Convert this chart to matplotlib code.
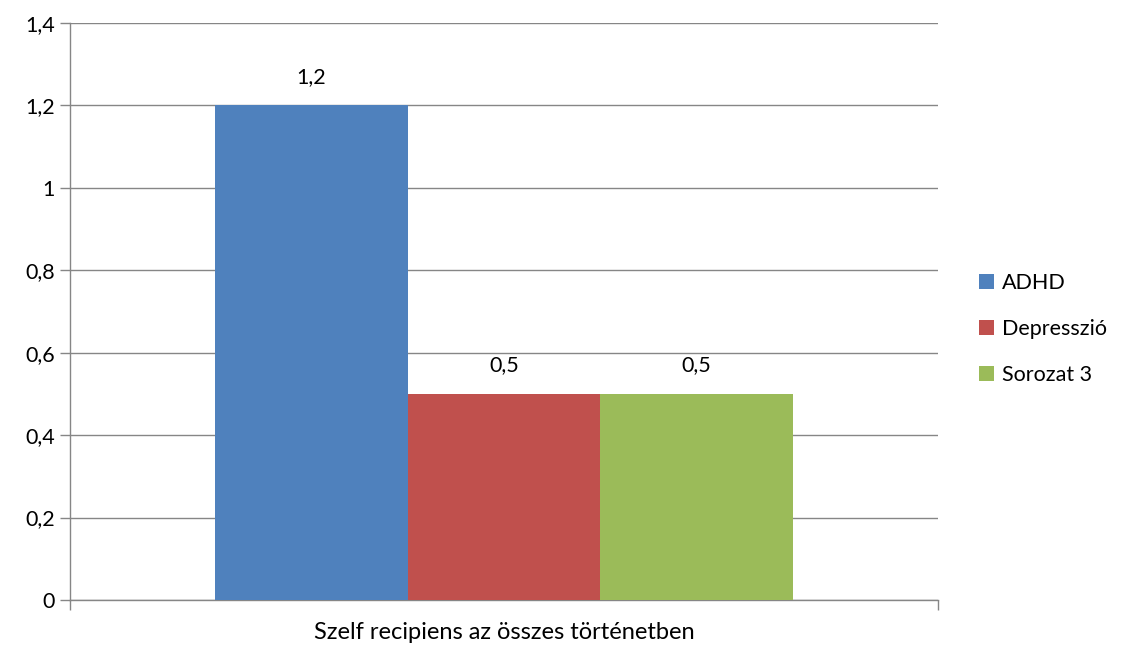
import matplotlib.pyplot as plt
from matplotlib.patches import Patch

plt.rcParams['font.family'] = ['Lato', 'DejaVu Sans']

categories = ["Szelf recipiens az összes történetben"]
series_names = ["ADHD", "Depresszió", "Sorozat 3"]
series_values = [[1.2], [0.5], [0.5]]
series_colors = ["#4F81BD", "#C0504D", "#9BBB59"]

fig = plt.figure(figsize=(11.25, 6.46), dpi=100)
ax = fig.add_axes([0.0622, 0.0712, 0.7716, 0.8932])

fs = 15.5
axis_color = "#868686"
bar_w = 0.222
n = len(series_names)
for i, (name, vals, col) in enumerate(zip(series_names, series_values, series_colors)):
    xs = [c + (i - (n - 1) / 2) * bar_w for c in range(len(categories))]
    ax.bar(xs, vals, width=bar_w, color=col, zorder=3, label=name)
    for x, v in zip(xs, vals):
        ax.text(x, v + 0.045, f"{v:g}".replace(".", ","), ha='center', va='bottom',
                fontsize=fs, color='black')

ax.set_xlim(-0.5, len(categories) - 0.5)
ax.set_ylim(0, 1.4)
yt = [0, 0.2, 0.4, 0.6, 0.8, 1.0, 1.2, 1.4]
ax.set_yticks(yt)
ax.set_yticklabels([f"{t:g}".replace(".", ",") for t in yt], fontsize=fs)
ax.grid(True, axis='y', color=axis_color, linewidth=1, zorder=0)

ax.set_xticks(range(len(categories)))
ax.set_xticklabels(categories, fontsize=17)
ax.tick_params(axis='x', which='major', length=0, pad=16)
ax.set_xticks([c - 0.5 for c in range(len(categories) + 1)], minor=True)
ax.tick_params(axis='x', which='minor', length=7, color=axis_color, width=1)
ax.tick_params(axis='y', length=7, color=axis_color, width=1, pad=4)

for s in ['top', 'right']:
    ax.spines[s].set_visible(False)
for s in ['left', 'bottom']:
    ax.spines[s].set_color(axis_color)
    ax.spines[s].set_linewidth(1)

handles = [Patch(facecolor=c, label=nm) for nm, c in zip(series_names, series_colors)]
fig.legend(handles=handles, loc='center left', bbox_to_anchor=(0.853, 0.491), frameon=False,
           fontsize=fs, handlelength=0.7, handleheight=0.7, handletextpad=0.35, labelspacing=1.2)

fig.savefig("out.png", dpi=100)
